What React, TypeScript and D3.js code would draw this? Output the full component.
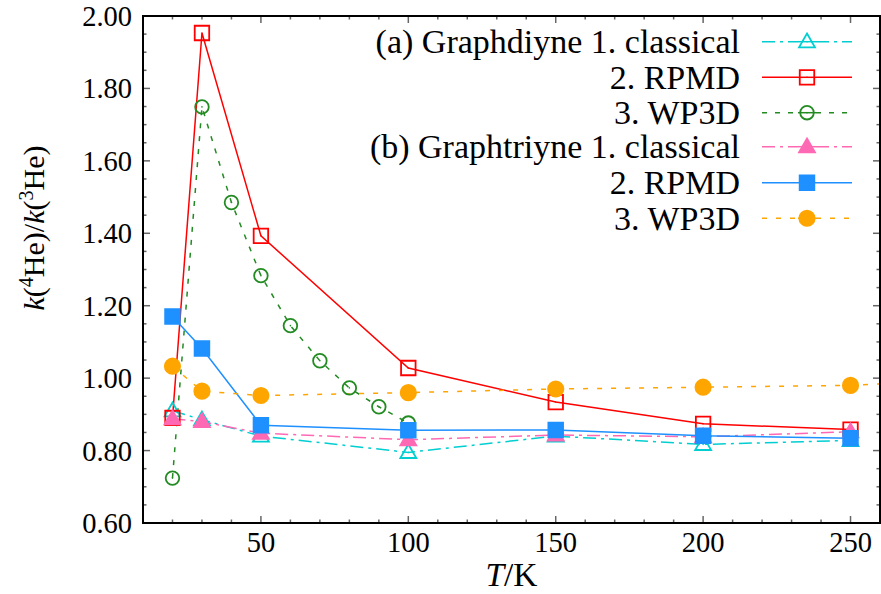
import React from "react";
import * as d3 from "d3";

const T_MAIN = [20, 30, 50, 100, 150, 200, 250];
const T_GD_WP = [20, 30, 40, 50, 60, 70, 80, 90, 100];
const T_GT_WP = [20, 30, 50, 100, 150, 200, 250, 300];

const gdClassical = [0.91, 0.885, 0.84, 0.795, 0.84, 0.817, 0.828];
const gdRPMD = [0.89, 1.953, 1.393, 1.028, 0.934, 0.874, 0.858];
const gdWP3D = [0.724, 1.749, 1.485, 1.283, 1.145, 1.048, 0.973, 0.921, 0.876];
const gtClassical = [0.888, 0.88, 0.848, 0.83, 0.843, 0.838, 0.852];
const gtRPMD = [1.17, 1.082, 0.87, 0.856, 0.857, 0.841, 0.834];
const gtWP3D = [1.033, 0.964, 0.952, 0.96, 0.97, 0.975, 0.98, 1.0];

const legendPrefix = ["(a) Graphdiyne 1. classical", "2. RPMD", "3. WP3D", "(b) Graphtriyne 1. classical", "2. RPMD", "3. WP3D"];

const xMajor = [50, 100, 150, 200, 250];
const yMajor = [0.6, 0.8, 1.0, 1.2, 1.4, 1.6, 1.8, 2.0];

type Series = {
  xs: number[];
  ys: number[];
  color: string;
  dash: string;
  marker: "triangle" | "square" | "circle";
  filled: boolean;
  label: string;
};

const series: Series[] = [
  { xs: T_MAIN, ys: gdClassical, color: "#00CED1", dash: "13,5,3,5", marker: "triangle", filled: false, label: legendPrefix[0] },
  { xs: T_MAIN, ys: gdRPMD, color: "#FF0000", dash: "", marker: "square", filled: false, label: legendPrefix[1] },
  { xs: T_GD_WP, ys: gdWP3D, color: "#228B22", dash: "5,8", marker: "circle", filled: false, label: legendPrefix[2] },
  { xs: T_MAIN, ys: gtClassical, color: "#FF69B4", dash: "13,5,3,5", marker: "triangle", filled: true, label: legendPrefix[3] },
  { xs: T_MAIN, ys: gtRPMD, color: "#1E90FF", dash: "", marker: "square", filled: true, label: legendPrefix[4] },
  { xs: T_GT_WP, ys: gtWP3D, color: "#FFA500", dash: "5,9", marker: "circle", filled: true, label: legendPrefix[5] },
];

const W = 881;
const H = 594;
const L = 143, R = 880, TOP = 16, B = 523;
const SERIF = "'Liberation Serif', Tinos, 'Times New Roman', 'DejaVu Serif', serif";

function markerPath(m: Series["marker"], filled: boolean) {
  if (m === "triangle") return d3.symbol(d3.symbolTriangle, 110)()!;
  if (m === "square") return d3.symbol(d3.symbolSquare, filled ? 215 : 210)()!;
  return d3.symbol(d3.symbolCircle, filled ? 185 : 145)()!;
}

function Marker({ s, x, y }: { s: Series; x: number; y: number }) {
  const dy = s.marker === "triangle" ? 1 : 0;
  return (
    <g transform={`translate(${x},${y + dy})`}>
      <path d={markerPath(s.marker, s.filled)} fill={s.filled ? s.color : "none"} stroke={s.color} strokeWidth={1.8} />
      {!s.filled && <circle cx={0} cy={-dy} r={0.8} fill={s.color} />}
    </g>
  );
}

export default function App() {
  const x = d3.scaleLinear().domain([10, 260]).range([L, R]);
  const y = d3.scaleLinear().domain([0.6, 2.0]).range([B, TOP]);
  const line = d3.line<[number, number]>().x((d) => x(d[0])).y((d) => y(d[1]));

  const xMinor = d3.range(10, 261, 10).filter((v) => v % 50 !== 0);
  const yMinor = d3.range(0, 29).map((i) => 0.6 + i * 0.05).filter((v) => Math.abs(Math.round(v * 5) - v * 5) > 1e-6);

  const tickColor = "#666";
  const major = 7, minor = 3.5;

  const legendRows = [41.7, 77.3, 112.7, 146.7, 182.7, 218.3];

  return (
    <div style={{ position: "absolute", left: 0, top: 0 }}>
      <svg width={W} height={H} style={{ display: "block", background: "#fff", fontFamily: SERIF }}>
        <defs>
          <clipPath id="plotclip">
            <rect x={L} y={TOP} width={R - L} height={B - TOP} />
          </clipPath>
        </defs>
        <rect x={0} y={0} width={W} height={H} fill="#fff" />

        {/* ticks */}
        <g stroke={tickColor} strokeWidth={1.5}>
          {xMajor.map((v) => (
            <g key={"xm" + v}>
              <line x1={x(v)} x2={x(v)} y1={B} y2={B - major} />
              <line x1={x(v)} x2={x(v)} y1={TOP} y2={TOP + major} />
            </g>
          ))}
          {xMinor.map((v) => (
            <g key={"xn" + v}>
              <line x1={x(v)} x2={x(v)} y1={B} y2={B - minor} />
              <line x1={x(v)} x2={x(v)} y1={TOP} y2={TOP + minor} />
            </g>
          ))}
          {yMajor.map((v) => (
            <g key={"ym" + v}>
              <line x1={L} x2={L + major} y1={y(v)} y2={y(v)} />
              <line x1={R} x2={R - major} y1={y(v)} y2={y(v)} />
            </g>
          ))}
          {yMinor.map((v, i) => (
            <g key={"yn" + i}>
              <line x1={L} x2={L + minor} y1={y(v)} y2={y(v)} />
              <line x1={R} x2={R - minor} y1={y(v)} y2={y(v)} />
            </g>
          ))}
        </g>

        {/* data lines */}
        <g clipPath="url(#plotclip)">
          {series.map((s, i) => (
            <path
              key={"l" + i}
              d={line(s.xs.map((t, j) => [t, s.ys[j]] as [number, number]))!}
              fill="none"
              stroke={s.color}
              strokeWidth={1.5}
              strokeDasharray={s.dash || undefined}
            />
          ))}
          {series.map((s, i) => (
            <g key={"m" + i}>
              {s.xs.map((t, j) => (t <= 260 ? <Marker key={j} s={s} x={x(t)} y={y(s.ys[j])} /> : null))}
            </g>
          ))}
        </g>

        {/* frame */}
        <rect x={L} y={TOP} width={R - L} height={B - TOP} fill="none" stroke="#000" strokeWidth={2} />

        {/* tick labels */}
        <g fontSize={28.5} fill="#000" style={{ fontFamily: SERIF }}>
          {xMajor.map((v) => (
            <text key={"xl" + v} x={x(v)} y={551.5} textAnchor="middle">
              {v}
            </text>
          ))}
          {yMajor.map((v) => (
            <text key={"yl" + v} x={132} y={y(v) + 10} textAnchor="end">
              {v.toFixed(2)}
            </text>
          ))}
        </g>

        {/* axis titles */}
        <text x={(L + R) / 2} y={586} textAnchor="middle" fontSize={33.5} style={{ fontFamily: SERIF }}>
          <tspan fontStyle="italic">T</tspan>/K
        </text>
        <text transform="translate(44,228) rotate(-90)" textAnchor="middle" fontSize={30} style={{ fontFamily: SERIF }}>
          <tspan fontStyle="italic">k</tspan>(
          <tspan fontSize={20} dy={-11}>4</tspan>
          <tspan dy={11}>He)/</tspan>
          <tspan fontStyle="italic">k</tspan>(
          <tspan fontSize={20} dy={-11}>3</tspan>
          <tspan dy={11}>He)</tspan>
        </text>

        {/* legend */}
        <g style={{ fontFamily: SERIF }}>
          {series.map((s, i) => {
            const cy = legendRows[i];
            return (
              <g key={"lg" + i}>
                <text x={740} y={cy + 11.5} textAnchor="end" fontSize={34}>
                  {s.label}
                </text>
                <line x1={762} x2={798} y1={cy} y2={cy} stroke={s.color} strokeWidth={1.5} strokeDasharray={s.dash || undefined} />
                <line x1={816} x2={852} y1={cy} y2={cy} stroke={s.color} strokeWidth={1.5} strokeDasharray={s.dash || undefined} />
                <line x1={798} x2={816} y1={cy} y2={cy} stroke={s.color} strokeWidth={1.5} />
                <Marker s={s} x={807} y={cy} />
              </g>
            );
          })}
        </g>
      </svg>
    </div>
  );
}
